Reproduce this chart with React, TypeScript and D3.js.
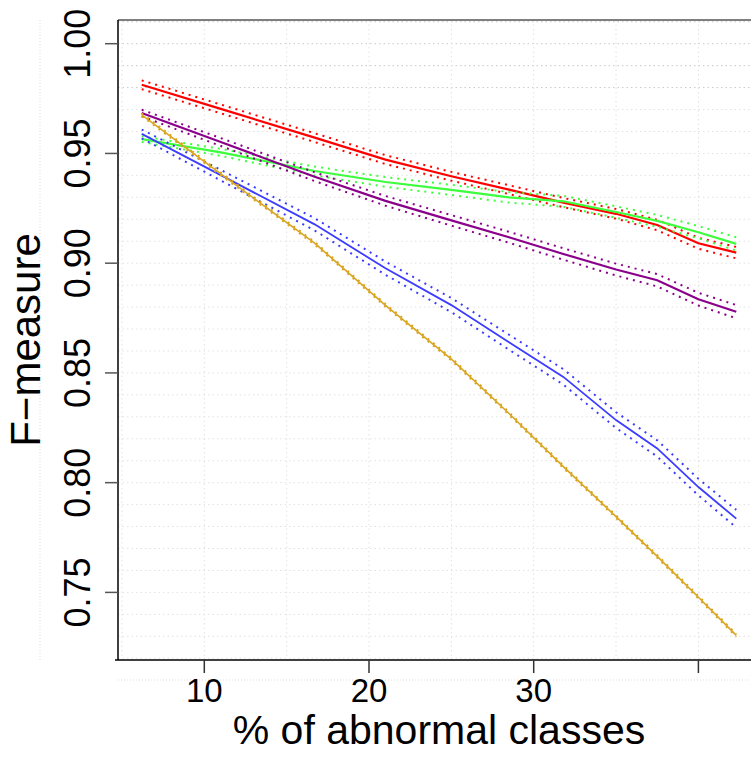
import React from 'react';
import * as d3 from 'd3';

// % of abnormal classes
const xValues = [6.2, 11, 16.7, 21, 25, 28.5, 31.8, 35, 37.5, 40, 42.3];

// F-measure per method (mean line) and half-width of the dotted band
const redMean = [0.9813, 0.9703, 0.9572, 0.9472, 0.9396, 0.9335, 0.9276, 0.9225, 0.9174, 0.9091, 0.9048];
const redBand = [0.002, 0.002, 0.002, 0.002, 0.002, 0.002, 0.0021, 0.0022, 0.0024, 0.0025, 0.0026];
const greenMean = [0.9565, 0.9505, 0.942, 0.937, 0.9334, 0.93, 0.9282, 0.9233, 0.9193, 0.9141, 0.9088];
const greenBand = [0.0013, 0.0016, 0.002, 0.0022, 0.0023, 0.0024, 0.0025, 0.0026, 0.0027, 0.0028, 0.003];
const purpleMean = [0.9684, 0.9552, 0.9394, 0.9284, 0.9195, 0.9118, 0.9042, 0.8971, 0.8922, 0.8836, 0.8779];
const purpleBand = [0.0015, 0.0018, 0.002, 0.0022, 0.0024, 0.0025, 0.0026, 0.0027, 0.0028, 0.0029, 0.003];
const blueMean = [0.9589, 0.9401, 0.9177, 0.8977, 0.8809, 0.864, 0.8482, 0.8285, 0.8156, 0.798, 0.7836];
const blueBand = [0.002, 0.0024, 0.0028, 0.003, 0.0032, 0.0034, 0.0035, 0.0036, 0.0037, 0.0038, 0.004];
const orangeMean = [0.9676, 0.9407, 0.9091, 0.8808, 0.8563, 0.8315, 0.8073, 0.7845, 0.7664, 0.7478, 0.7304];
const orangeBand = [0.0006, 0.0006, 0.0006, 0.0006, 0.0006, 0.0006, 0.0006, 0.0006, 0.0006, 0.0006, 0.0006];

const xTicks = [10, 20, 30, 40];
const xTickLabels = ['10', '20', '30', '']; // R dropped the last label
const yTicks = [0.75, 0.8, 0.85, 0.9, 0.95, 1.0];

const series = [
  { name: 'red', mean: redMean, band: redBand, color: '#ff0000', width: 2.2 },
  { name: 'green', mean: greenMean, band: greenBand, color: '#3cff3c', width: 2.2 },
  { name: 'purple', mean: purpleMean, band: purpleBand, color: '#8b008b', width: 2.2 },
  { name: 'blue', mean: blueMean, band: blueBand, color: '#3c3cff', width: 1.8 },
  { name: 'orange', mean: orangeMean, band: orangeBand, color: '#daa520', width: 1.6 },
];

const W = 751;
const H = 760;
const left = 118;
const right = 760;
const top = 20;
const bottom = 660;

const App = () => {
  const x = d3.scaleLinear().domain([4.76, 43.74]).range([left, right]);
  const y = d3.scaleLinear().domain([0.7192, 1.0108]).range([bottom, top]);

  const line = d3.line<[number, number]>()
    .x(d => x(d[0]))
    .y(d => y(d[1]));

  const hGrid = d3.range(72, 102).map(v => v / 100);
  const vGrid = d3.range(5, 45, 5);
  const font = 'Liberation Sans, Arial, Helvetica, sans-serif';

  return (
    <svg width={W} height={H} style={{ position: 'absolute', left: 0, top: 0, background: '#fff' }}>
      {/* faint outer frame */}
      <line x1={40} x2={40} y1={top} y2={bottom} stroke="#ddd" strokeDasharray="1 2" />
      <line x1={left} x2={W} y1={680} y2={680} stroke="#ddd" strokeDasharray="1 2" />

      {/* grid */}
      {hGrid.map(v => (
        <line key={'h' + v} x1={left} x2={right} y1={y(v)} y2={y(v)}
          stroke={v >= 0.98 ? '#c8c8c8' : '#e2e2e2'} strokeDasharray="1.5 3" />
      ))}
      {vGrid.map(v => (
        <line key={'v' + v} x1={x(v)} x2={x(v)} y1={top} y2={bottom}
          stroke="#e2e2e2" strokeDasharray="1.5 3" />
      ))}

      {/* series */}
      {series.map(s => {
        const pts = xValues.map((xv, i) => [xv, s.mean[i]] as [number, number]);
        const up = xValues.map((xv, i) => [xv, s.mean[i] + s.band[i]] as [number, number]);
        const lo = xValues.map((xv, i) => [xv, s.mean[i] - s.band[i]] as [number, number]);
        return (
          <g key={s.name}>
            <path d={line(up) || ''} fill="none" stroke={s.color} strokeWidth={2} strokeDasharray="2 5" />
            <path d={line(lo) || ''} fill="none" stroke={s.color} strokeWidth={2} strokeDasharray="2 5" />
            <path d={line(pts) || ''} fill="none" stroke={s.color} strokeWidth={s.width} />
          </g>
        );
      })}

      {/* box */}
      <line x1={left} x2={W} y1={top} y2={top} stroke="#555" strokeWidth={1.5} />
      <line x1={left} x2={left} y1={top} y2={bottom} stroke="#000" strokeWidth={1.5} />
      <line x1={left - 3} x2={W} y1={bottom} y2={bottom} stroke="#000" strokeWidth={1.5} />

      {/* y axis */}
      {yTicks.map(v => (
        <g key={'yt' + v}>
          <line x1={left - 13} x2={left} y1={y(v)} y2={y(v)} stroke="#555" strokeWidth={1.5} />
          <text transform={`translate(90,${y(v)}) rotate(-90)`} textAnchor="middle"
            fontFamily={font} fontSize={36} fill="#000">{v.toFixed(2)}</text>
        </g>
      ))}

      {/* x axis */}
      {xTicks.map((v, i) => (
        <g key={'xt' + v}>
          <line x1={x(v)} x2={x(v)} y1={bottom} y2={bottom + 13} stroke="#333" strokeWidth={1.5} />
          {xTickLabels[i] && (
            <text x={x(v)} y={702} textAnchor="middle" fontFamily={font} fontSize={33} fill="#000">
              {xTickLabels[i]}
            </text>
          )}
        </g>
      ))}

      <text x={(left + right) / 2} y={744} textAnchor="middle" fontFamily={font} fontSize={41} fill="#000">
        % of abnormal classes
      </text>
      <text transform={`translate(40,${(top + bottom) / 2}) rotate(-90)`} textAnchor="middle"
        fontFamily={font} fontSize={42} fill="#000">F{'\u2212'}measure</text>
    </svg>
  );
};

export default App;
